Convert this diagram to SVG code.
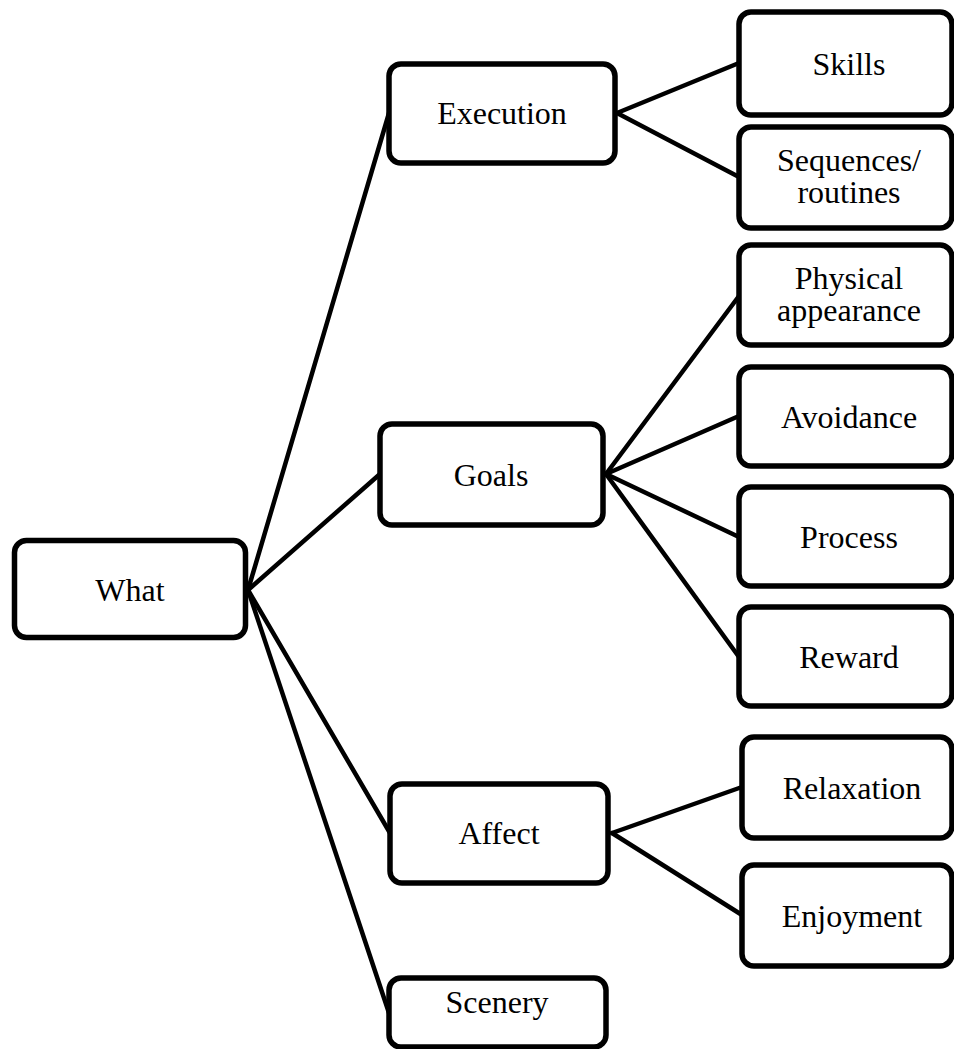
<svg xmlns="http://www.w3.org/2000/svg" width="954" height="1049" viewBox="0 0 954 1049">
  <style>
    .box { fill: #ffffff; stroke: #000000; stroke-width: 5.5; }
    .lbl { font-family: "Liberation Serif", "Times New Roman", Times, serif; font-size: 32px; fill: #000000; text-anchor: middle; }
    .link { stroke: #000000; stroke-width: 4.5; fill: none; stroke-linecap: round; }
  </style>
  <rect width="954" height="1049" fill="#ffffff"/>

  <!-- connectors -->
  <g id="connectors">
    <line class="link" x1="248" y1="590" x2="389" y2="113"/>
    <line class="link" x1="248" y1="590" x2="380" y2="474"/>
    <line class="link" x1="248" y1="590" x2="390" y2="833"/>
    <line class="link" x1="248" y1="590" x2="389" y2="1013"/>
    <line class="link" x1="617" y1="113" x2="739" y2="63"/>
    <line class="link" x1="617" y1="113" x2="739" y2="177"/>
    <line class="link" x1="606" y1="474" x2="739" y2="296"/>
    <line class="link" x1="606" y1="474" x2="739" y2="416"/>
    <line class="link" x1="606" y1="474" x2="739" y2="537"/>
    <line class="link" x1="606" y1="474" x2="739" y2="657"/>
    <line class="link" x1="612" y1="833" x2="742" y2="787"/>
    <line class="link" x1="612" y1="833" x2="742" y2="915"/>
  </g>

  <!-- root -->
  <g id="what">
    <rect class="box" x="14.5" y="540.5" width="231" height="97" rx="12"/>
    <text class="lbl" x="130" y="601">What</text>
  </g>

  <!-- second level -->
  <g id="execution">
    <rect class="box" x="389" y="64" width="226" height="99" rx="12"/>
    <text class="lbl" x="502" y="124">Execution</text>
  </g>
  <g id="goals">
    <rect class="box" x="380" y="424" width="223" height="101" rx="12"/>
    <text class="lbl" x="491" y="486">Goals</text>
  </g>
  <g id="affect">
    <rect class="box" x="390" y="784" width="218" height="99" rx="12"/>
    <text class="lbl" x="499" y="844">Affect</text>
  </g>
  <g id="scenery">
    <rect class="box" x="389" y="978" width="217" height="69" rx="12"/>
    <text class="lbl" x="497" y="1013">Scenery</text>
  </g>

  <!-- third level -->
  <g id="skills">
    <rect class="box" x="739" y="12" width="213" height="103" rx="12"/>
    <text class="lbl" x="849" y="75">Skills</text>
  </g>
  <g id="sequences">
    <rect class="box" x="739" y="127" width="213" height="101" rx="12"/>
    <text class="lbl" x="849" y="171">Sequences/</text>
    <text class="lbl" x="849" y="203">routines</text>
  </g>
  <g id="physical">
    <rect class="box" x="739" y="245" width="213" height="100" rx="12"/>
    <text class="lbl" x="849" y="289">Physical</text>
    <text class="lbl" x="849" y="321">appearance</text>
  </g>
  <g id="avoidance">
    <rect class="box" x="739" y="367" width="213" height="99" rx="12"/>
    <text class="lbl" x="849" y="428">Avoidance</text>
  </g>
  <g id="process">
    <rect class="box" x="739" y="487" width="213" height="99" rx="12"/>
    <text class="lbl" x="849" y="548">Process</text>
  </g>
  <g id="reward">
    <rect class="box" x="739" y="607" width="213" height="99" rx="12"/>
    <text class="lbl" x="849" y="668">Reward</text>
  </g>
  <g id="relaxation">
    <rect class="box" x="742" y="737" width="210" height="101" rx="12"/>
    <text class="lbl" x="852" y="799">Relaxation</text>
  </g>
  <g id="enjoyment">
    <rect class="box" x="742" y="865" width="210" height="101" rx="12"/>
    <text class="lbl" x="852" y="927">Enjoyment</text>
  </g>
</svg>
